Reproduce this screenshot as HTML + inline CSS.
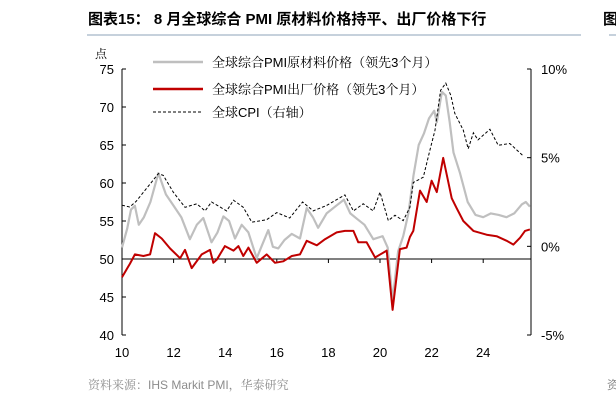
<!DOCTYPE html>
<html><head><meta charset="utf-8">
<style>
body{margin:0;background:#fff;width:616px;height:403px;overflow:hidden;font-family:"Liberation Sans","Noto Sans CJK SC",sans-serif;}
svg{display:block}
</style></head>
<body>
<svg id="chart" width="616" height="403" xmlns="http://www.w3.org/2000/svg" font-family="Liberation Sans, Noto Sans CJK SC, sans-serif">
<text x="88" y="24" font-size="15" font-weight="bold" fill="#000">图表15：  8 月全球综合 PMI 原材料价格持平、出厂价格下行</text>
<line x1="87" y1="35" x2="581" y2="35" stroke="#8ea3b8" stroke-width="1"/>
<text x="603" y="24" font-size="15" font-weight="bold">图</text>
<line x1="609" y1="35" x2="616" y2="35" stroke="#8ea3b8"/>
<text x="95" y="58" font-size="12" font-family="Liberation Serif, Noto Serif CJK SC, serif">点</text>
<g id="axes"></g>
<g id="series"></g>
<g font-family="Liberation Sans, Noto Serif CJK SC, serif">
<line x1="153" y1="62" x2="203" y2="62" stroke="#bfbfbf" stroke-width="2.5"/>
<text x="212" y="67" font-size="13">全球综合PMI原材料价格（领先3个月）</text>
<line x1="153" y1="89" x2="203" y2="89" stroke="#c00000" stroke-width="2.5"/>
<text x="212" y="94" font-size="13">全球综合PMI出厂价格（领先3个月）</text>
<line x1="153" y1="112" x2="203" y2="112" stroke="#000" stroke-width="1" stroke-dasharray="3,2"/>
<text x="212" y="117" font-size="13">全球CPI（右轴）</text>
</g>
<text x="88" y="389" font-size="12" fill="#8c8c8c" font-family="Liberation Sans, Noto Serif CJK SC, serif">资料来源：IHS Markit PMI，华泰研究</text>
<text x="607" y="389" font-size="12" fill="#8c8c8c">资</text>
</svg>
<script>
const leftTicks=[40,45,50,55,60,65,70,75];
const rightTicks=[-5,0,5,10];
const xTickYears=[2010,2012,2014,2016,2018,2020,2022,2024];
const xTickLabels=["10","12","14","16","18","20","22","24"];
const inputYears=[2010.0,2010.2,2010.35,2010.5,2010.65,2010.85,2011.1,2011.41,2011.7,2012.0,2012.3,2012.63,2012.9,2013.15,2013.47,2013.7,2013.93,2014.15,2014.38,2014.64,2014.9,2015.22,2015.45,2015.67,2015.85,2016.06,2016.3,2016.58,2016.9,2017.16,2017.4,2017.6,2017.93,2018.3,2018.6,2018.85,2019.1,2019.4,2019.74,2020.1,2020.3,2020.49,2020.7,2020.9,2021.1,2021.3,2021.5,2021.7,2021.9,2022.1,2022.2,2022.4,2022.55,2022.7,2022.85,2023.1,2023.4,2023.7,2024.0,2024.3,2024.6,2024.9,2025.2,2025.5,2025.65,2025.81];
const inputValues=[51.5,54,56.5,57,54.5,55.5,57.5,61.3,58.5,57,55.5,52.6,54.5,55.4,52.2,53.5,55.6,55,52.7,54.5,53.5,50.1,52,53.8,51.6,51.4,52.5,53.3,52.7,56.7,55.5,54.1,56,57,57.8,56,55.3,54.5,52.6,53,51.5,44.5,51,53,56,61,65,66.5,68.5,69.5,68,72,71.5,68,64,61.3,57.5,55.8,55.5,56,55.8,55.5,56,57.2,57.5,56.9];
const outputYears=[2010.0,2010.31,2010.5,2010.83,2011.09,2011.28,2011.54,2011.86,2012.25,2012.44,2012.7,2013.09,2013.41,2013.54,2013.67,2013.99,2014.32,2014.51,2014.7,2014.9,2015.22,2015.61,2015.93,2016.25,2016.58,2016.9,2017.16,2017.55,2017.87,2018.32,2018.64,2018.97,2019.16,2019.48,2019.81,2020.26,2020.49,2020.77,2021.03,2021.16,2021.29,2021.55,2021.81,2022.0,2022.2,2022.45,2022.78,2022.97,2023.23,2023.62,2024.13,2024.52,2024.91,2025.17,2025.43,2025.62,2025.81];
const outputValues=[47.6,49.4,50.6,50.4,50.6,53.4,52.7,51.4,50.1,51.2,48.8,50.6,51.2,49.5,49.9,51.7,51.1,51.7,50.4,51.5,49.5,50.6,49.5,49.7,50.4,50.6,52.4,51.8,52.6,53.5,53.7,53.7,52.2,52.2,50.2,51.1,43.3,51.3,51.5,52.9,53.7,59.0,57.5,60.3,58.8,63.3,58.0,56.7,55.0,53.7,53.2,53.0,52.4,51.9,52.8,53.7,53.9];
const cpiYears=[2010.0,2010.3,2010.55,2011.41,2011.6,2011.99,2012.44,2012.9,2013.22,2013.47,2014.06,2014.32,2014.7,2015.03,2015.61,2016.0,2016.5,2017.0,2017.41,2017.93,2018.64,2018.97,2019.35,2019.74,2020.0,2020.32,2020.58,2020.9,2021.16,2021.29,2021.68,2021.93,2022.13,2022.35,2022.55,2022.75,2022.9,2023.23,2023.42,2023.62,2023.8,2024.26,2024.58,2025.03,2025.55];
const cpiValues=[2.32,2.22,2.54,4.1,4.0,3.05,2.2,2.4,2.0,2.5,2.0,2.6,2.2,1.36,1.5,1.9,1.6,2.5,2.0,2.3,2.9,2.0,2.4,2.0,3.05,1.45,1.75,1.45,2.2,3.6,3.9,5.4,6.55,8.8,9.2,8.5,7.5,6.55,5.5,6.4,6.0,6.6,5.7,5.8,5.1];

const NS="http://www.w3.org/2000/svg";
const X0=122,X1=531,YT=69,YB=335;
function xs(yr){return X0+(yr-2010)*25.8;}
function yl(v){return YT+(75-v)*(YB-YT)/35;}
function yr(v){return YT+(10-v)*(YB-YT)/15;}
function mk(tag,attrs,parent){const e=document.createElementNS(NS,tag);for(const k in attrs)e.setAttribute(k,attrs[k]);parent.appendChild(e);return e;}
const ax=document.getElementById('axes');
let e=mk('line',{x1:X0,y1:YT,x2:X0,y2:YB,stroke:'#000','stroke-width':1},ax);


e=mk('line',{x1:X1,y1:YT,x2:X1,y2:YB,stroke:'#000','stroke-width':1},ax);


e=mk('line',{x1:X0,y1:yl(50),x2:X1,y2:yl(50),stroke:'#000','stroke-width':1},ax);


leftTicks.forEach(v=>{
  mk('line',{x1:X0,y1:yl(v),x2:X0+4,y2:yl(v),stroke:'#000'},ax);
  const t=mk('text',{x:X0-8,y:yl(v)+5,'font-size':13,'text-anchor':'end'},ax);
  t.textContent=v;
  
  
});
rightTicks.forEach(v=>{
  mk('line',{x1:X1-4,y1:yr(v),x2:X1,y2:yr(v),stroke:'#000'},ax);
  const t=mk('text',{x:X1+10,y:yr(v)+5,'font-size':13},ax);
  t.textContent=v+'%';
  
  
});
xTickYears.forEach((y,i)=>{
  mk('line',{x1:xs(y),y1:yl(50),x2:xs(y),y2:yl(50)+4,stroke:'#000'},ax);
  const t=mk('text',{x:xs(y),y:357,'font-size':13,'text-anchor':'middle'},ax);
  t.textContent=xTickLabels[i];
  
  
});
const sg=document.getElementById('series');
function path(xsArr,vals,yf){return xsArr.map((x,i)=>(i?'L':'M')+xs(x).toFixed(1)+','+yf(vals[i]).toFixed(1)).join('');}
e=mk('path',{d:path(inputYears,inputValues,yl),fill:'none',stroke:'#bfbfbf','stroke-width':2.2,'stroke-linejoin':'round'},sg);


e=mk('path',{d:path(cpiYears,cpiValues,yr),fill:'none',stroke:'#000','stroke-width':1,'stroke-dasharray':'3,2'},sg);


e=mk('path',{d:path(outputYears,outputValues,yl),fill:'none',stroke:'#c00000','stroke-width':2,'stroke-linejoin':'round'},sg);


</script>
</body></html>
